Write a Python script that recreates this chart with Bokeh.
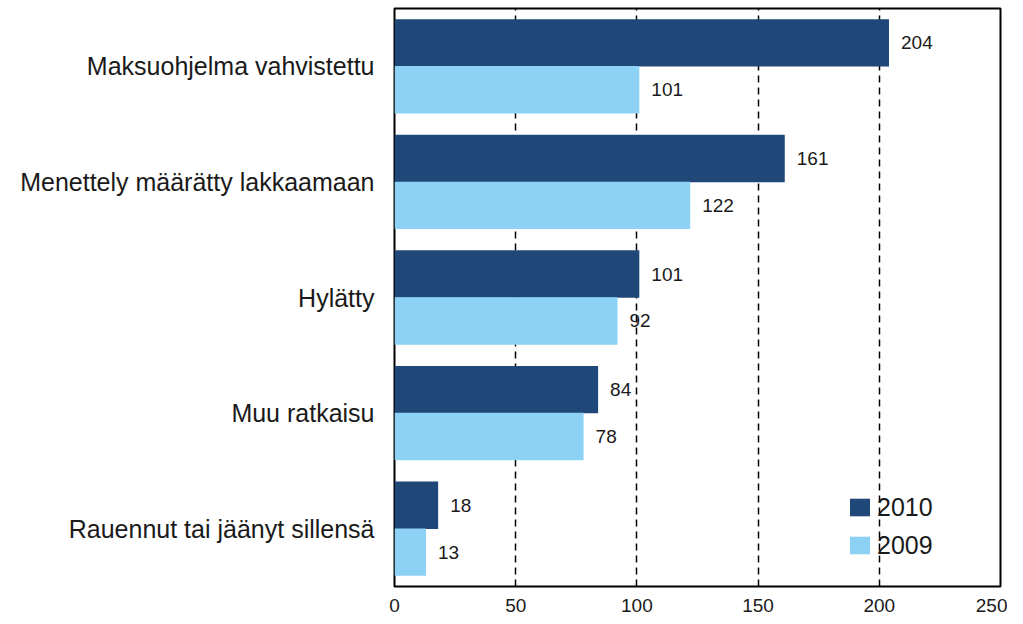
from bokeh.plotting import figure
from bokeh.models import ColumnDataSource, FactorRange, Range1d, FixedTicker, Legend, LegendItem
from bokeh.transform import dodge
from bokeh.core.properties import value
from bokeh.embed import file_html
from bokeh.resources import INLINE

categories = ["Maksuohjelma vahvistettu", "Menettely määrätty lakkaamaan", "Hylätty",
              "Muu ratkaisu", "Rauennut tai jäänyt sillensä"]
values_2010 = [204, 161, 101, 84, 18]
values_2009 = [101, 122, 92, 78, 13]
x_ticks = [0, 50, 100, 150, 200, 250]
grid_ticks = [50, 100, 150, 200]

DARK = "#1f4878"
LIGHT = "#8dd2f4"
FONT = "Liberation Sans"

src = ColumnDataSource(dict(
    cat=categories,
    v2010=values_2010,
    v2009=values_2009,
    l2010=[str(v) for v in values_2010],
    l2009=[str(v) for v in values_2009],
))

p = figure(width=1007, height=614, output_backend="svg", toolbar_location=None,
           title_location=None,
           y_range=FactorRange(factors=list(reversed(categories))),
           x_range=Range1d(0, 250),
           min_border_left=394, min_border_right=7, min_border_top=8, min_border_bottom=24)

p.background_fill_color = "white"
p.border_fill_color = "white"
p.outline_line_color = "black"
p.outline_line_width = 2

r2010 = p.hbar(y=dodge("cat", 0.203, range=p.y_range), right="v2010", left=0, height=0.41,
               source=src, fill_color=DARK, line_color=None)
r2009 = p.hbar(y=dodge("cat", -0.203, range=p.y_range), right="v2009", left=0, height=0.41,
               source=src, fill_color=LIGHT, line_color=None)

p.text(x="v2010", y=dodge("cat", 0.203, range=p.y_range), text="l2010", source=src,
       x_offset=12, text_baseline="middle", text_align="left",
       text_font=value(FONT), text_font_size="19px", text_color="#1a1a1a")
p.text(x="v2009", y=dodge("cat", -0.203, range=p.y_range), text="l2009", source=src,
       x_offset=12, text_baseline="middle", text_align="left",
       text_font=value(FONT), text_font_size="19px", text_color="#1a1a1a")

# grid
p.ygrid.grid_line_color = None
p.xgrid.ticker = FixedTicker(ticks=grid_ticks)
p.xgrid.grid_line_color = "black"
p.xgrid.grid_line_width = 1.5
p.xgrid.grid_line_dash = "7 5"

# x axis
p.xaxis.ticker = FixedTicker(ticks=x_ticks)
p.xaxis.axis_line_color = None
p.xaxis.major_tick_line_color = None
p.xaxis.minor_tick_line_color = None
p.xaxis.major_label_standoff = 6
p.xaxis.major_label_text_font = FONT
p.xaxis.major_label_text_font_size = "19px"
p.xaxis.major_label_text_color = "#1a1a1a"

# y axis
p.yaxis.axis_line_color = None
p.yaxis.major_tick_line_color = None
p.yaxis.minor_tick_line_color = None
p.yaxis.major_label_standoff = 14
p.yaxis.major_label_text_font = FONT
p.yaxis.major_label_text_font_size = "25px"
p.yaxis.major_label_text_color = "#1a1a1a"

legend = Legend(items=[LegendItem(label="2010", renderers=[r2010]),
                       LegendItem(label="2009", renderers=[r2009])],
                location=(453, 26), padding=0, margin=0, spacing=8,
                glyph_width=25, glyph_height=22, label_height=30, label_standoff=5,
                label_text_font=FONT, label_text_font_size="25px", label_text_color="#1a1a1a",
                background_fill_alpha=0, border_line_color=None)
p.add_layout(legend, "center")

open("out.html", "w").write(file_html(p, INLINE))
